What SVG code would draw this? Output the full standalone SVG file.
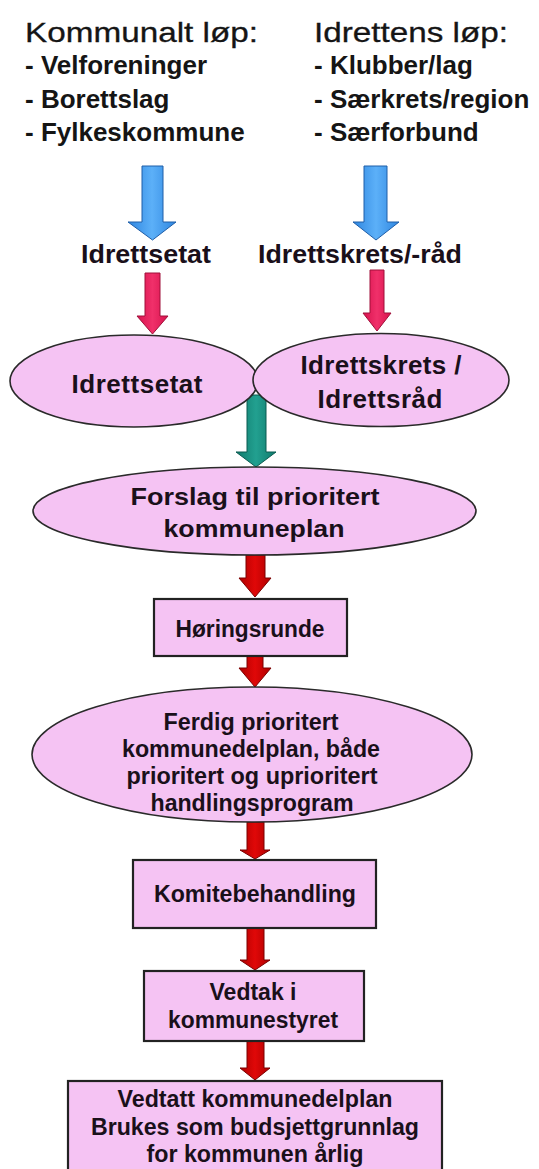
<svg xmlns="http://www.w3.org/2000/svg" width="539" height="1169" viewBox="0 0 539 1169">
<style>
.hd{font-family:"Liberation Sans",Arial,sans-serif;font-size:28px;fill:#151515;stroke:#151515;stroke-width:0.3}
.bl{font-family:"Liberation Sans",Arial,sans-serif;font-size:26px;font-weight:bold;fill:#151515}
.lb{font-family:"Liberation Sans",Arial,sans-serif;font-size:25px;font-weight:bold;fill:#1a101a}
.el{font-family:"Liberation Sans",Arial,sans-serif;font-size:26px;font-weight:bold;fill:#1a101a;text-anchor:middle}
.nt{font-family:"Liberation Sans",Arial,sans-serif;font-size:23px;font-weight:bold;fill:#1a101a;text-anchor:middle}
.sh{fill:#f5c3f3;stroke:#2a2a2a;stroke-width:1.6}
.bx{fill:#f5c3f3;stroke:#222;stroke-width:2.2}
.blue{fill:url(#gBlue);stroke:#1f5ea8;stroke-width:1}
.crim{fill:url(#gCrim);stroke:#a0103a;stroke-width:1}
.teal{fill:url(#gTeal);stroke:#0b5a50;stroke-width:1}
.red{fill:url(#gRed);stroke:#7a0000;stroke-width:1}
</style>
<defs>
<linearGradient id="gBlue" x1="0" x2="1" y1="0" y2="0"><stop offset="0" stop-color="#2f86e0"/><stop offset="0.5" stop-color="#5cb0f8"/><stop offset="1" stop-color="#2f86e0"/></linearGradient>
<linearGradient id="gCrim" x1="0" x2="1" y1="0" y2="0"><stop offset="0" stop-color="#d8124e"/><stop offset="0.5" stop-color="#f0306a"/><stop offset="1" stop-color="#d8124e"/></linearGradient>
<linearGradient id="gTeal" x1="0" x2="1" y1="0" y2="0"><stop offset="0" stop-color="#0f7a6c"/><stop offset="0.5" stop-color="#22a090"/><stop offset="1" stop-color="#0f7a6c"/></linearGradient>
<linearGradient id="gRed" x1="0" x2="1" y1="0" y2="0"><stop offset="0" stop-color="#b00000"/><stop offset="0.5" stop-color="#e00808"/><stop offset="1" stop-color="#b00000"/></linearGradient>
</defs>
<rect width="539" height="1169" fill="#ffffff"/>

<g id="kommunalt">
<text class="hd" x="25" y="42" textLength="233" lengthAdjust="spacingAndGlyphs">Kommunalt løp:</text>
<text class="bl" x="25" y="74">- Velforeninger</text>
<text class="bl" x="25" y="108">- Borettslag</text>
<text class="bl" x="25" y="141">- Fylkeskommune</text>
</g>
<g id="idrettens">
<text class="hd" x="314" y="42" textLength="194" lengthAdjust="spacingAndGlyphs">Idrettens løp:</text>
<text class="bl" x="314" y="74">- Klubber/lag</text>
<text class="bl" x="314" y="108">- Særkrets/region</text>
<text class="bl" x="314" y="141">- Særforbund</text>
</g>
<g id="label-idrettsetat">
<text class="lb" x="81" y="263" textLength="130" lengthAdjust="spacingAndGlyphs">Idrettsetat</text>
</g>
<g id="label-idrettskrets">
<text class="lb" x="258" y="263" textLength="204" lengthAdjust="spacingAndGlyphs">Idrettskrets/-råd</text>
</g>

<g id="connectors">
<polygon class="blue" points="142,166 163,166 163,222 176,222 152.5,240 128,222 142,222"/>
<polygon class="blue" points="364,166 387,166 387,222 399,222 376,240 353,222 364,222"/>
<polygon class="crim" points="145,273 160,273 160,316 168,316 152.5,334 137,316 145,316"/>
<polygon class="crim" points="370,270 384,270 384,313 391,313 377,331 363,313 370,313"/>
<polygon class="teal" points="247,395 266,395 266,452 276,452 256,467 236,452 247,452"/>
<polygon class="red" points="246,555 265,555 265,578 271,578 255,597 239,578 246,578"/>
<polygon class="red" points="247,656 263,656 263,668 271,668 255,687 239,668 247,668"/>
<polygon class="red" points="247,822 264,822 264,850 270,850 255,859 240,850 247,850"/>
<polygon class="red" points="247,928 264,928 264,960 270,960 255,970 240,960 247,960"/>
<polygon class="red" points="247,1041 264,1041 264,1068 270,1068 255,1080 240,1068 247,1068"/>
</g>

<g id="n-idrettsetat">
<ellipse class="sh" cx="134" cy="381" rx="124" ry="46"/>
<text class="el" x="137" y="393" textLength="131" lengthAdjust="spacing">Idrettsetat</text>
</g>
<g id="n-idrettskrets">
<ellipse class="sh" cx="381" cy="380" rx="128" ry="46.5"/>
<text class="el" x="381" y="374" textLength="161" lengthAdjust="spacing">Idrettskrets /</text>
<text class="el" x="380" y="408" textLength="125" lengthAdjust="spacing">Idrettsråd</text>
</g>
<g id="n-forslag">
<ellipse class="sh" cx="254.5" cy="511" rx="221.5" ry="44"/>
<text class="nt" x="255" y="505" textLength="249" lengthAdjust="spacingAndGlyphs" style="font-size:24px">Forslag til prioritert</text>
<text class="nt" x="254" y="537" textLength="181" lengthAdjust="spacingAndGlyphs" style="font-size:24px">kommuneplan</text>
</g>
<g id="n-horing">
<rect class="bx" x="154" y="599" width="193" height="57"/>
<text class="nt" x="250" y="637" textLength="149" lengthAdjust="spacingAndGlyphs">Høringsrunde</text>
</g>
<g id="n-ferdig">
<ellipse class="sh" cx="252" cy="754.5" rx="220" ry="67.5"/>
<text class="nt" x="251" y="730" textLength="175" lengthAdjust="spacingAndGlyphs">Ferdig prioritert</text>
<text class="nt" x="251" y="757" textLength="258" lengthAdjust="spacingAndGlyphs">kommunedelplan, både</text>
<text class="nt" x="252" y="784" textLength="251" lengthAdjust="spacingAndGlyphs">prioritert og uprioritert</text>
<text class="nt" x="252" y="811" textLength="203" lengthAdjust="spacingAndGlyphs">handlingsprogram</text>
</g>
<g id="n-komite">
<rect class="bx" x="133" y="860" width="243" height="68"/>
<text class="nt" x="255" y="902" textLength="202" lengthAdjust="spacingAndGlyphs">Komitebehandling</text>
</g>
<g id="n-vedtak">
<rect class="bx" x="144" y="971" width="220" height="70"/>
<text class="nt" x="253" y="1000" textLength="87" lengthAdjust="spacingAndGlyphs">Vedtak i</text>
<text class="nt" x="253" y="1028" textLength="170" lengthAdjust="spacingAndGlyphs">kommunestyret</text>
</g>
<g id="n-vedtatt">
<rect class="bx" x="68" y="1081" width="374" height="100"/>
<text class="nt" x="255" y="1107" textLength="275" lengthAdjust="spacingAndGlyphs">Vedtatt kommunedelplan</text>
<text class="nt" x="255" y="1135" textLength="328" lengthAdjust="spacingAndGlyphs">Brukes som budsjettgrunnlag</text>
<text class="nt" x="255" y="1162" textLength="217" lengthAdjust="spacingAndGlyphs">for kommunen årlig</text>
</g>
</svg>
